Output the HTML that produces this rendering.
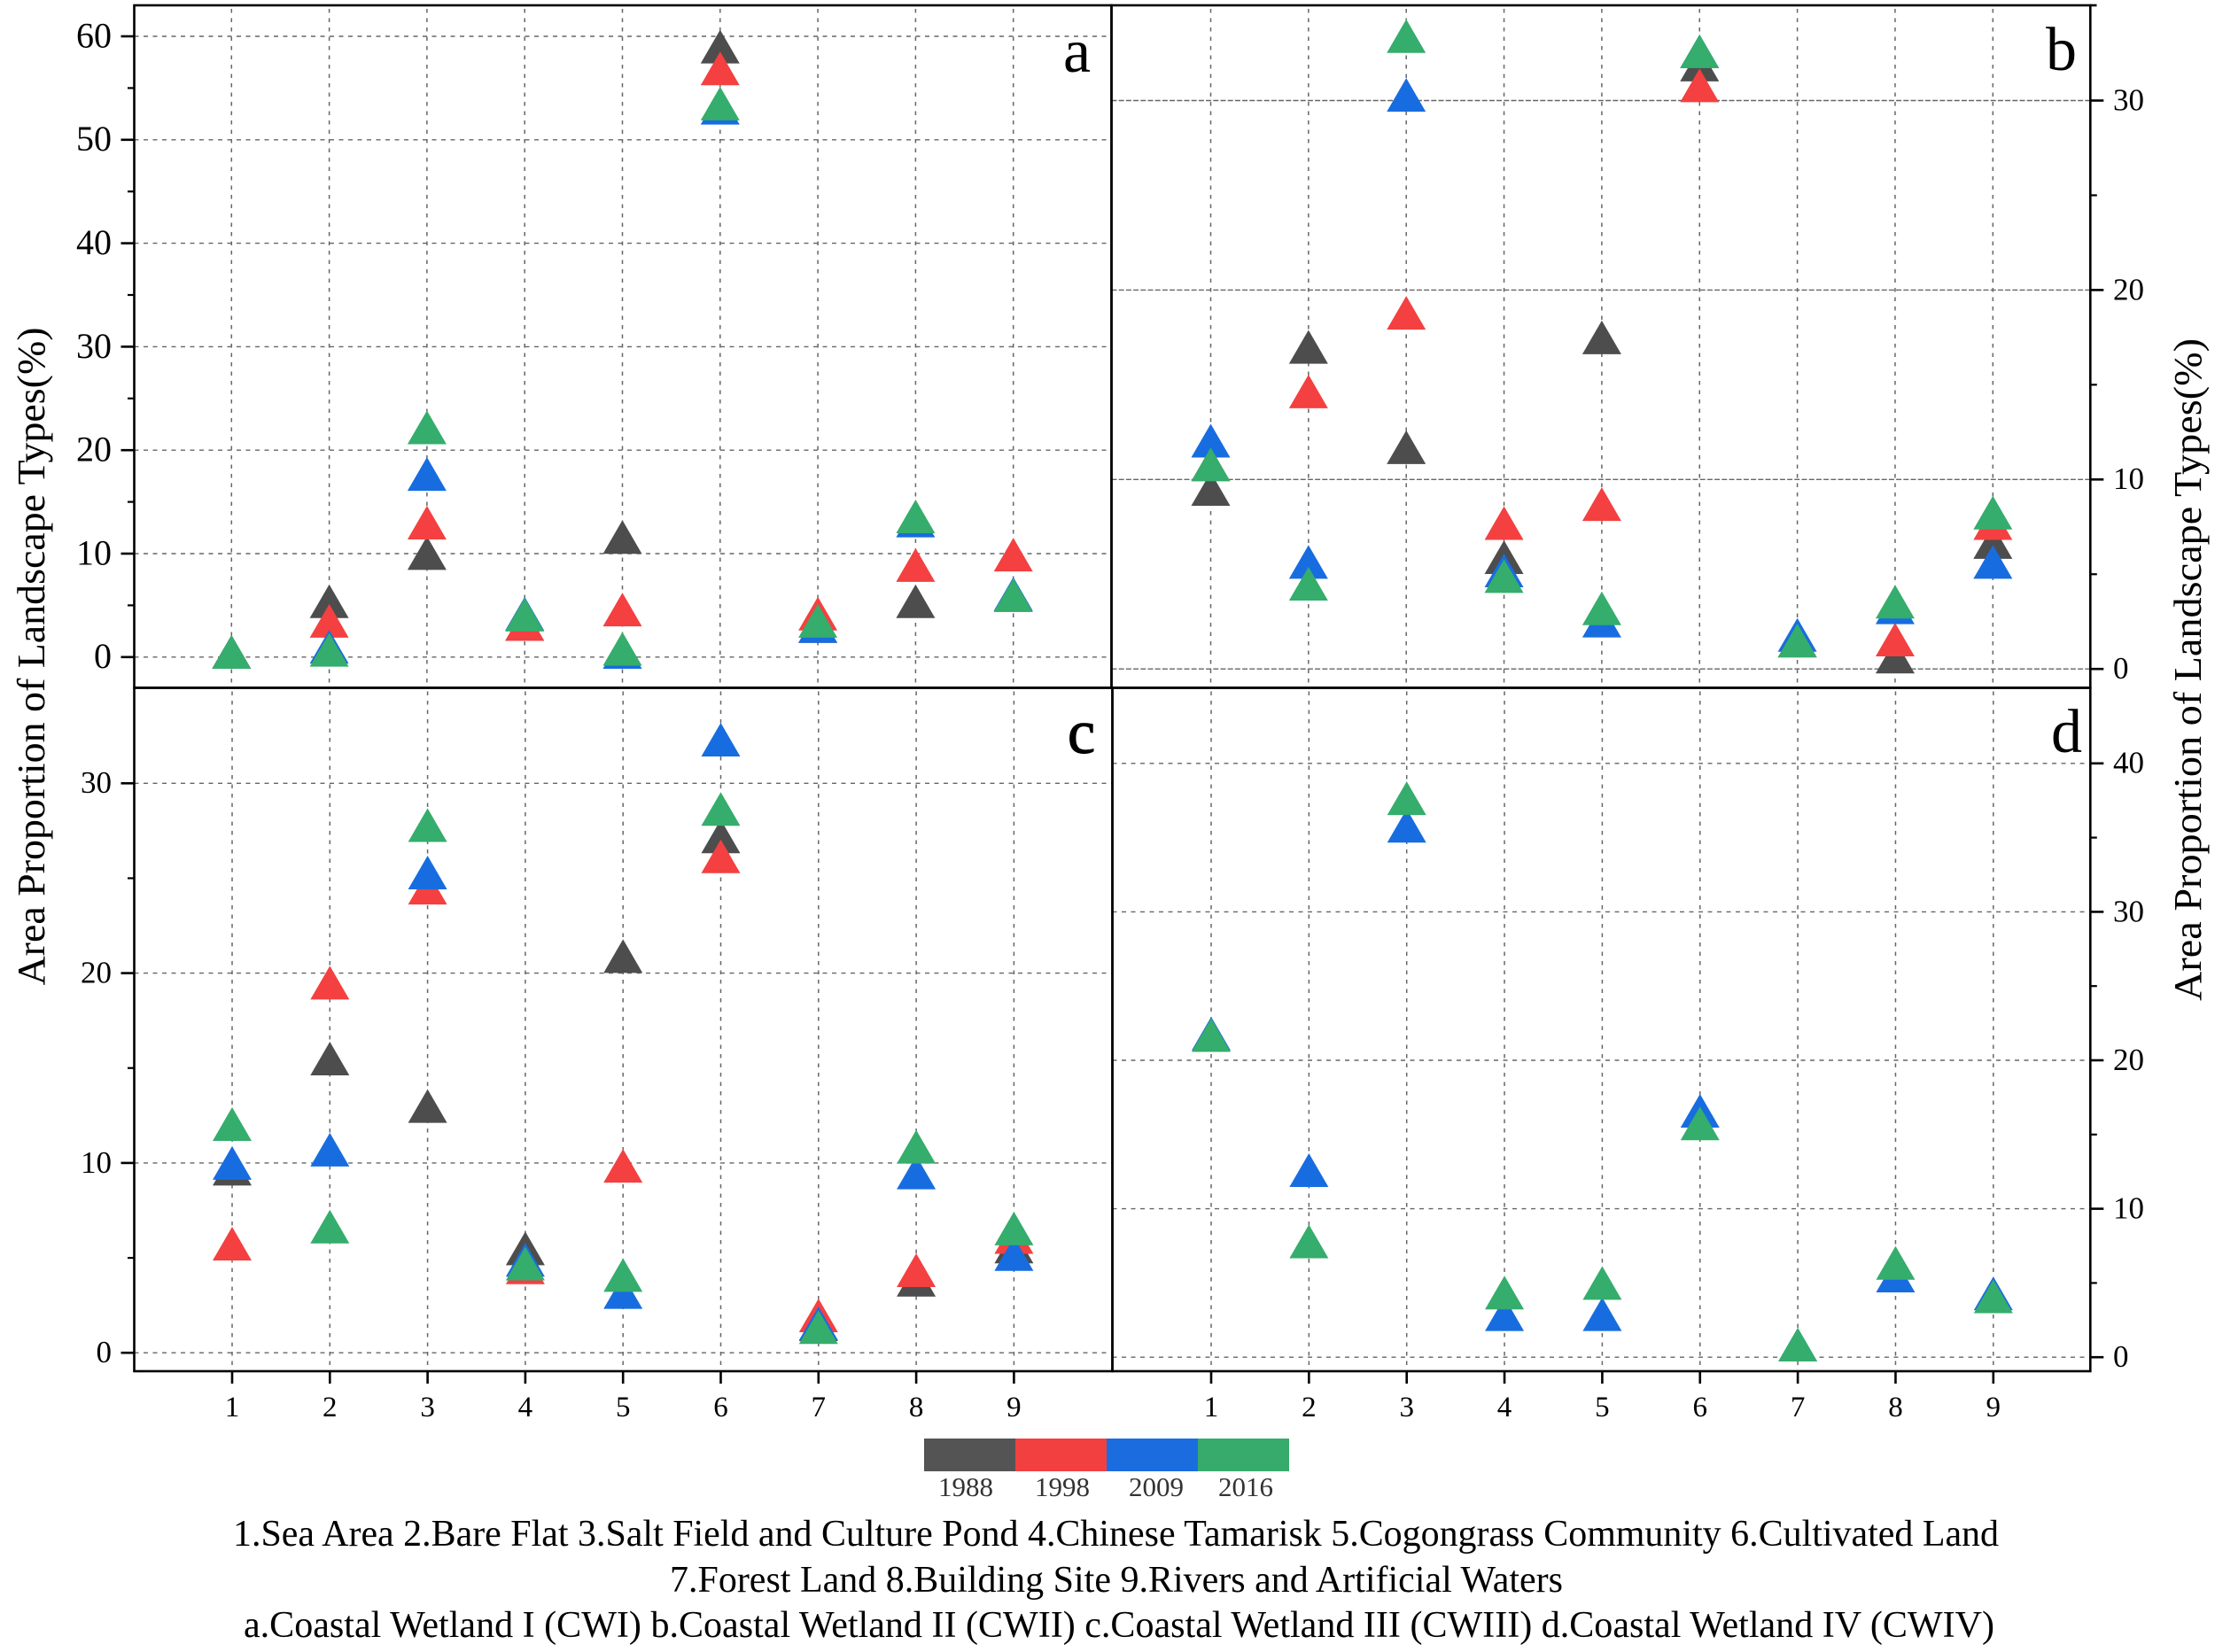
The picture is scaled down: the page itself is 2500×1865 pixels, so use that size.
<!DOCTYPE html>
<html lang="en">
<head>
<meta charset="utf-8">
<title>Area Proportion of Landscape Types</title>
<style>
html,body{margin:0;padding:0;background:#fff;width:2500px;height:1865px;overflow:hidden}
svg{display:block}
text{font-family:"Liberation Serif",serif;fill:#000}
</style>
</head>
<body>
<svg id="chart" xmlns="http://www.w3.org/2000/svg" width="2500" height="1865" viewBox="0 0 2500 1865">
  <rect x="0" y="0" width="2500" height="1865" fill="#ffffff"/>
  <g id="layer-grid"></g>
  <g id="layer-marks"></g>
  <g id="layer-axes"></g>

  <text x="1200" y="81" font-size="70">a</text>
  <text x="2309" y="79" font-size="70">b</text>
  <text x="1205" y="850" font-size="70" stroke="#000" stroke-width="1.2">c</text>
  <text x="2315" y="849" font-size="70">d</text>

  <text transform="translate(50 741) rotate(-90)" text-anchor="middle" font-size="44" textLength="743" lengthAdjust="spacingAndGlyphs">Area Proportion of Landscape Types(%)</text>
  <text transform="translate(2484 756) rotate(-90)" text-anchor="middle" font-size="44" textLength="748" lengthAdjust="spacingAndGlyphs">Area Proportion of Landscape Types(%)</text>

  <g>
    <rect x="1043" y="1624" width="103" height="37" fill="#545454"/>
    <rect x="1146" y="1624" width="103" height="37" fill="#f24040"/>
    <rect x="1249" y="1624" width="103" height="37" fill="#1b6ddf"/>
    <rect x="1352" y="1624" width="103" height="37" fill="#36ab6b"/>
    <text x="1090" y="1689" font-size="31" text-anchor="middle" style="fill:#333">1988</text>
    <text x="1199" y="1689" font-size="31" text-anchor="middle" style="fill:#333">1998</text>
    <text x="1305" y="1689" font-size="31" text-anchor="middle" style="fill:#333">2009</text>
    <text x="1406" y="1689" font-size="31" text-anchor="middle" style="fill:#333">2016</text>
  </g>

  <g>
    <text x="263" y="1745" font-size="42" textLength="1993" lengthAdjust="spacingAndGlyphs">1.Sea Area 2.Bare Flat 3.Salt Field and Culture Pond 4.Chinese Tamarisk 5.Cogongrass Community 6.Cultivated Land</text>
    <text x="756" y="1797" font-size="42" textLength="1008" lengthAdjust="spacingAndGlyphs">7.Forest Land 8.Building Site 9.Rivers and Artificial Waters</text>
    <text x="275" y="1848" font-size="42" textLength="1976" lengthAdjust="spacingAndGlyphs">a.Coastal Wetland I (CWI) b.Coastal Wetland II (CWII) c.Coastal Wetland III (CWIII) d.Coastal Wetland IV (CWIV)</text>
  </g>
</svg>

<script>
// ---- Data ----
const categories = [1, 2, 3, 4, 5, 6, 7, 8, 9];
const years = ['1988', '1998', '2009', '2016'];

const panelA1988 = [0.5, 5.4, 10.05, 3.2, 11.6, 59.0, 3.0, 5.4, 6.0];
const panelA1998 = [0.5, 3.5, 13.0, 3.2, 4.6, 56.9, 4.2, 8.9, 9.9];
const panelA2009 = [0.5, 1.0, 17.7, 4.2, 0.5, 53.1, 3.0, 13.2, 6.1];
const panelA2016 = [0.5, 0.7, 22.2, 4.1, 0.8, 53.5, 3.5, 13.6, 6.0];

const panelB1988 = [9.5, 17.0, 11.7, 5.9, 17.5, 31.9, 1.5, 0.65, 6.7];
const panelB1998 = [10.8, 14.65, 18.8, 7.7, 8.7, 30.8, 1.5, 1.55, 7.7];
const panelB2009 = [12.05, 5.65, 30.3, 5.2, 2.55, 32.6, 1.8, 3.25, 5.65];
const panelB2016 = [10.8, 4.5, 33.4, 4.9, 3.2, 32.6, 1.5, 3.55, 8.25];

const panelC1988 = [9.7, 15.5, 13.0, 5.5, 20.9, 27.2, 1.5, 3.85, 5.6];
const panelC1998 = [5.75, 19.5, 24.5, 4.5, 9.85, 26.15, 1.97, 4.35, 6.1];
const panelC2009 = [10.0, 10.7, 25.3, 4.9, 3.2, 32.3, 1.55, 9.5, 5.2];
const panelC2016 = [12.05, 6.65, 27.8, 4.7, 4.1, 28.65, 1.35, 10.85, 6.55];

const panelD2009 = [21.8, 12.6, 35.8, 2.9, 2.9, 16.6, 0.85, 5.5, 4.3];
const panelD2016 = [21.7, 7.8, 37.65, 4.35, 5.0, 15.75, 0.85, 6.35, 4.1];

const ticksA = [0, 10, 20, 30, 40, 50, 60];
const minorTicksA = [5, 15, 25, 35, 45, 55];
const ticksB = [0, 10, 20, 30];
const minorTicksB = [5, 15, 25];
const ticksC = [0, 10, 20, 30];
const minorTicksC = [5, 15, 25];
const ticksD = [0, 10, 20, 30, 40];
const minorTicksD = [5, 15, 25, 35];

// ---- Rendering ----
const colors = {'1988': '#4d4d4d', '1998': '#f44040', '2009': '#176de0', '2016': '#35ad6c'};
const NS = 'http://www.w3.org/2000/svg';
const gridLayer = document.getElementById('layer-grid');
const markLayer = document.getElementById('layer-marks');
const axesLayer = document.getElementById('layer-axes');

function make(tag, parent, attrs) {
  const el = document.createElementNS(NS, tag);
  for (const k in attrs) el.setAttribute(k, attrs[k]);
  parent.appendChild(el);
  return el;
}

const panels = [
  {id: 'a', left: 151.5, right: 1254.5, top: 6, bottom: 776.5, x1: 261.3, x9: 1143.7, y0: 741.8, k: 11.68,
   side: 'left', fs: 40, major: ticksA, minor: minorTicksA, xLabels: false, hDash: '5 5.5',
   series: {'1988': panelA1988, '1998': panelA1998, '2009': panelA2009, '2016': panelA2016}},
  {id: 'b', left: 1254.5, right: 2359.3, top: 6, bottom: 776.5, x1: 1366.5, x9: 2249.3, y0: 755.2, k: 21.39,
   side: 'right', fs: 35, major: ticksB, minor: minorTicksB, xLabels: false, hDash: '6 2.2',
   series: {'1988': panelB1988, '1998': panelB1998, '2009': panelB2009, '2016': panelB2016}},
  {id: 'c', left: 151.5, right: 1255.5, top: 776.5, bottom: 1548, x1: 262, x9: 1144.4, y0: 1527.2, k: 21.43,
   side: 'left', fs: 35, major: ticksC, minor: minorTicksC, xLabels: true, hDash: '5 5.5',
   series: {'1988': panelC1988, '1998': panelC1998, '2009': panelC2009, '2016': panelC2016}},
  {id: 'd', left: 1255.5, right: 2359.3, top: 776.5, bottom: 1548, x1: 1367, x9: 2249.8, y0: 1532.2, k: 16.76,
   side: 'right', fs: 35, major: ticksD, minor: minorTicksD, xLabels: true, hDash: '5 5.5',
   series: {'2009': panelD2009, '2016': panelD2016}}
];

const TRI_W = 44, TRI_H = 38;

panels.forEach(function (p) {
  const xScale = function (c) { return p.x1 + (c - 1) * (p.x9 - p.x1) / 8; };
  const yScale = function (v) { return p.y0 - v * p.k; };

  // vertical grid
  categories.forEach(function (c) {
    const el = make('line', gridLayer, {x1: xScale(c), x2: xScale(c), y1: p.top + 4, y2: p.bottom,
      stroke: '#666', 'stroke-width': 1.5, 'stroke-dasharray': '4.5 6'});
    
    
  });
  // horizontal grid
  p.major.forEach(function (v) {
    const el = make('line', gridLayer, {x1: p.left, x2: p.right, y1: yScale(v), y2: yScale(v),
      stroke: '#666', 'stroke-width': 1.4, 'stroke-dasharray': p.hDash});
    
    
  });

  // markers
  years.forEach(function (yr) {
    const values = p.series[yr];
    if (!values) return;
    values.forEach(function (v, i) {
      const cx = xScale(categories[i]);
      const cy = yScale(v);
      const pts = [cx, cy - TRI_H / 2, cx + TRI_W / 2, cy + TRI_H / 2, cx - TRI_W / 2, cy + TRI_H / 2].join(' ');
      const el = make('polygon', markLayer, {points: pts, fill: colors[yr]});
      
      
    });
  });

  // y ticks
  const dir = p.side === 'left' ? -1 : 1;
  const edge = p.side === 'left' ? p.left : p.right;
  p.major.forEach(function (v) {
    const el = make('line', axesLayer, {x1: edge, x2: edge + dir * 15, y1: yScale(v), y2: yScale(v), stroke: '#000', 'stroke-width': 2.6});
    
    
    const t = make('text', axesLayer, {x: p.side === 'left' ? 126 : 2385, y: yScale(v) + p.fs * 0.31,
      'font-size': p.fs, 'text-anchor': p.side === 'left' ? 'end' : 'start'});
    
    
    t.textContent = v;
  });
  p.minor.forEach(function (v) {
    const el = make('line', axesLayer, {x1: edge, x2: edge + dir * 7.5, y1: yScale(v), y2: yScale(v), stroke: '#000', 'stroke-width': 2.2});
    
    
  });

  // x ticks and labels
  if (p.xLabels) {
    categories.forEach(function (c) {
      const el = make('line', axesLayer, {x1: xScale(c), x2: xScale(c), y1: p.bottom, y2: p.bottom + 14, stroke: '#000', 'stroke-width': 2.6});
      
      
      const t = make('text', axesLayer, {x: xScale(c), y: 1599, 'font-size': 33, 'text-anchor': 'middle'});
      
      
      t.textContent = c;
    });
  }

  // frame
  const frame = make('rect', axesLayer, {x: p.left, y: p.top, width: p.right - p.left, height: p.bottom - p.top,
    fill: 'none', stroke: '#000', 'stroke-width': 2.6});
  
  
});

// the top border overshoots the right axis slightly
const topStub = make('line', axesLayer, {x1: 2359, x2: 2366.5, y1: 6, y2: 6, stroke: '#000', 'stroke-width': 2.6});


</script>
</body>
</html>
